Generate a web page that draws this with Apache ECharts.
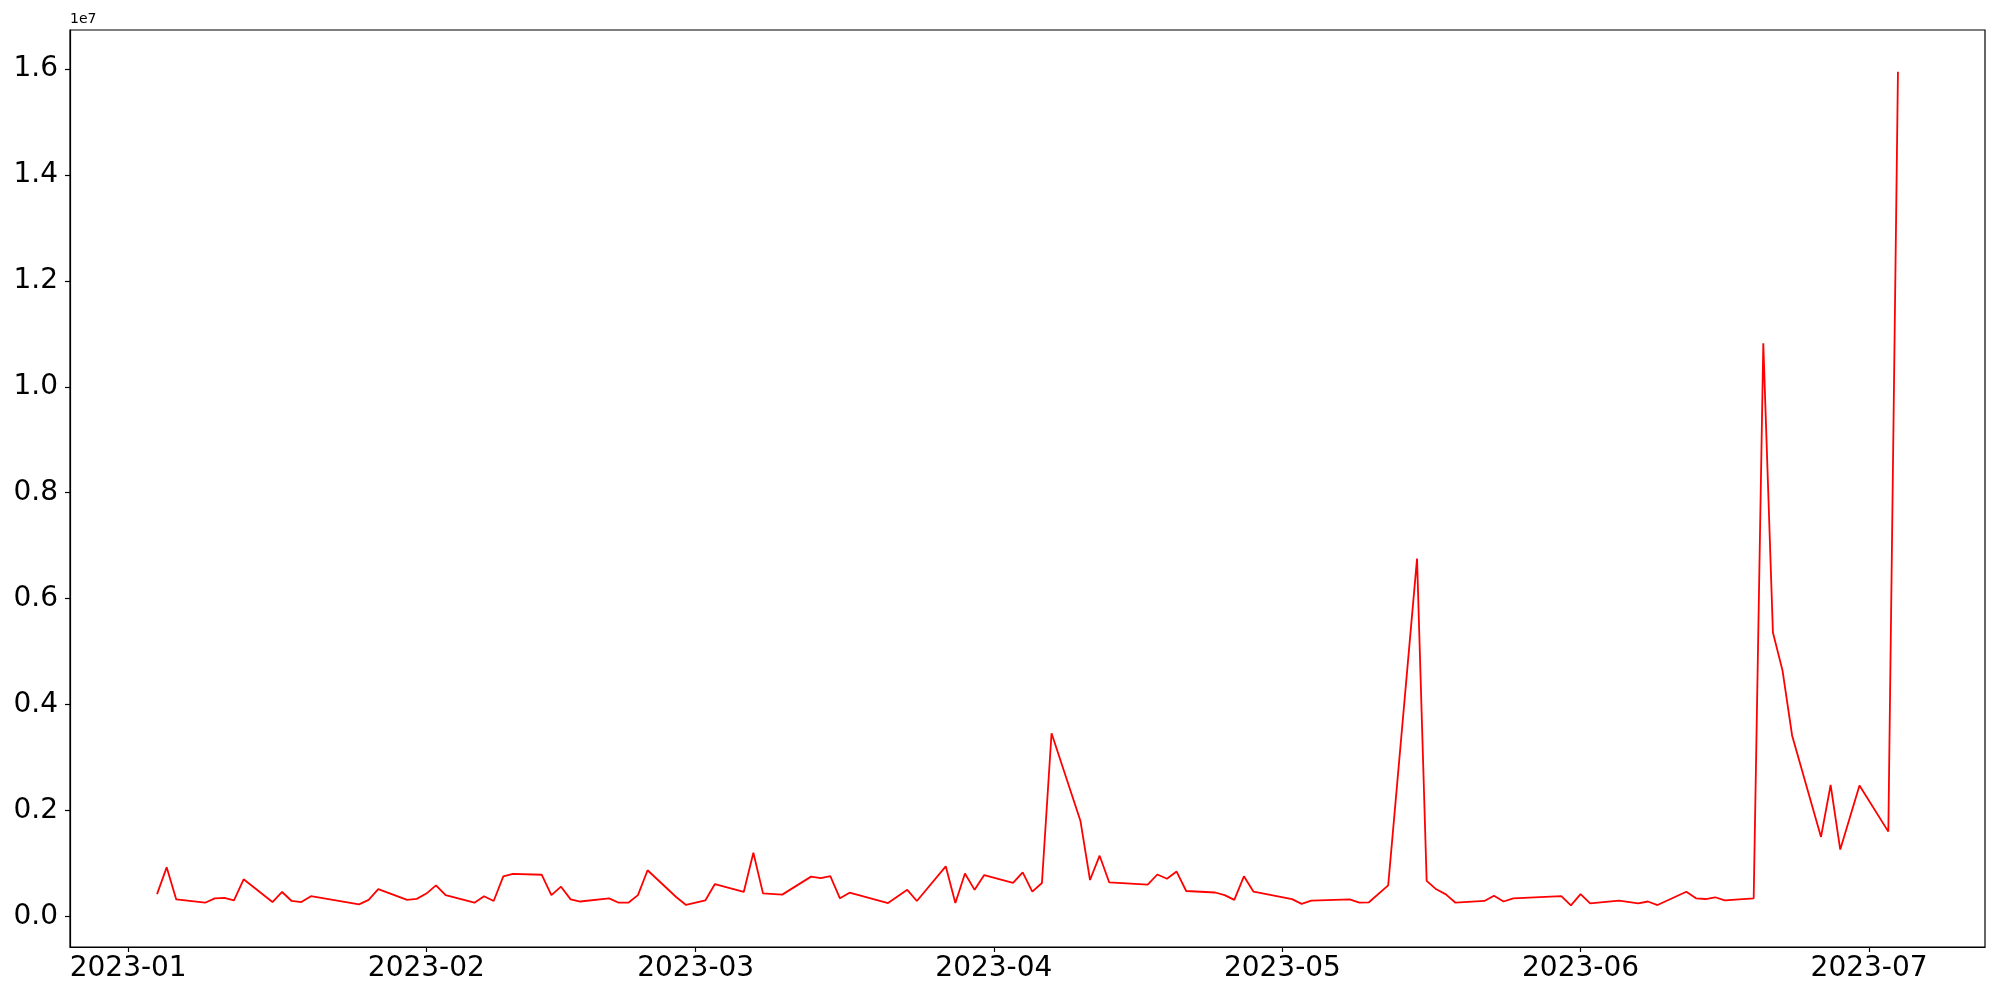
<!DOCTYPE html>
<html>
<head>
<meta charset="utf-8">
<script src="https://cdn.jsdelivr.net/npm/echarts@6/dist/echarts.min.js"></script>
<style>
html,body{margin:0;padding:0;background:#fff;}
#chart{width:2000px;height:1000px;}
</style>
</head>
<body>
<div id="chart"></div>
<script>
const dates = [
  '2023-01-04','2023-01-05','2023-01-06','2023-01-09','2023-01-10','2023-01-11','2023-01-12','2023-01-13',
  '2023-01-16','2023-01-17','2023-01-18','2023-01-19','2023-01-20','2023-01-25','2023-01-26','2023-01-27',
  '2023-01-30','2023-01-31','2023-02-01','2023-02-02','2023-02-03','2023-02-06','2023-02-07','2023-02-08',
  '2023-02-09','2023-02-10','2023-02-13','2023-02-14','2023-02-15','2023-02-16','2023-02-17','2023-02-20',
  '2023-02-21','2023-02-22','2023-02-23','2023-02-24','2023-02-27','2023-02-28','2023-03-02','2023-03-03',
  '2023-03-06','2023-03-07','2023-03-08','2023-03-10','2023-03-13','2023-03-14','2023-03-15','2023-03-16',
  '2023-03-17','2023-03-21','2023-03-23','2023-03-24','2023-03-27','2023-03-28','2023-03-29','2023-03-30',
  '2023-03-31','2023-04-03','2023-04-04','2023-04-05','2023-04-06','2023-04-07','2023-04-10','2023-04-11',
  '2023-04-12','2023-04-13','2023-04-17','2023-04-18','2023-04-19','2023-04-20','2023-04-21','2023-04-24',
  '2023-04-25','2023-04-26','2023-04-27','2023-04-28','2023-05-02','2023-05-03','2023-05-04','2023-05-08',
  '2023-05-09','2023-05-10','2023-05-12','2023-05-15','2023-05-16','2023-05-17','2023-05-18','2023-05-19',
  '2023-05-22','2023-05-23','2023-05-24','2023-05-25','2023-05-30','2023-05-31','2023-06-01','2023-06-02',
  '2023-06-05','2023-06-07','2023-06-08','2023-06-09','2023-06-12','2023-06-13','2023-06-14','2023-06-15',
  '2023-06-16','2023-06-19','2023-06-20','2023-06-21','2023-06-22','2023-06-23','2023-06-26','2023-06-27',
  '2023-06-28','2023-06-30','2023-07-03','2023-07-04'
];
const values = [
  420000, 925000, 320000, 257000, 340000, 350000, 300000, 700000,
  270000, 460000, 290000, 270000, 380000, 227000, 310000, 515000,
  310000, 330000, 430000, 585000, 400000, 257000, 380000, 290000,
  755000, 800000, 785000, 400000, 560000, 320000, 280000, 340000,
  257000, 257000, 400000, 870000, 360000, 215000, 300000, 610000,
  460000, 1200000, 434000, 410000, 750000, 720000, 760000, 340000,
  446000, 250000, 500000, 290000, 944000, 250000, 810000, 500000,
  780000, 630000, 830000, 465000, 630000, 3457000, 1806000, 686000,
  1145000, 640000, 600000, 790000, 710000, 845000, 478000, 450000,
  400000, 310000, 755000, 465000, 325000, 235000, 295000, 320000,
  260000, 265000, 585000, 6755000, 670000, 510000, 415000, 257000,
  290000, 390000, 280000, 340000, 383000, 208000, 420000, 245000,
  295000, 245000, 280000, 213000, 465000, 340000, 327000, 360000,
  300000, 340000, 10820000, 5360000, 4640000, 3410000, 1500000, 2480000,
  1260000, 2470000, 1600000, 15950000
];
const xTickLabels = ['2023-01','2023-02','2023-03','2023-04','2023-05','2023-06','2023-07'];
const yTickLabels = ['0.0','0.2','0.4','0.6','0.8','1.0','1.2','1.4','1.6'];
const yOffsetText = '1e7';
const yScale = 1e7;

function parseLocal(s) {
  const p = s.split('-').map(Number);
  return new Date(p[0], p[1] - 1, p[2] || 1).getTime();
}
const times = dates.map(parseLocal);
const xTickValues = xTickLabels.map(parseLocal);
const yTickValues = yTickLabels.map(s => parseFloat(s) * yScale);

const tMin = Math.min.apply(null, times), tMax = Math.max.apply(null, times);
const vMin = Math.min.apply(null, values), vMax = Math.max.apply(null, values);
const tPad = (tMax - tMin) * 0.05, vPad = (vMax - vMin) * 0.05;

const labelFont = { fontFamily: 'DejaVu Sans', fontSize: 28, color: '#000' };

const chart = echarts.init(document.getElementById('chart'), null, { renderer: 'canvas' });
chart.setOption({
  animation: false,
  backgroundColor: '#fff',
  grid: {
    left: 70, right: 15, top: 30, bottom: 53,
    containLabel: false,
    show: true, borderColor: '#000', borderWidth: 1.2, backgroundColor: 'transparent'
  },
  xAxis: {
    type: 'value',
    min: tMin - tPad,
    max: tMax + tPad,
    scale: true,
    splitLine: { show: false },
    axisLine: { show: true, onZero: false, lineStyle: { color: '#000', width: 1.2 } },
    axisTick: { show: true, customValues: xTickValues, length: 5, lineStyle: { color: '#000', width: 1.2 } },
    axisLabel: {
      customValues: xTickValues,
      margin: 8,
      ...labelFont,
      formatter: function (v) {
        let best = 0, bd = Infinity;
        xTickValues.forEach((t, i) => { const d = Math.abs(t - v); if (d < bd) { bd = d; best = i; } });
        return xTickLabels[best];
      }
    }
  },
  yAxis: {
    type: 'value',
    min: vMin - vPad,
    max: vMax + vPad,
    scale: true,
    name: yOffsetText,
    nameLocation: 'end',
    nameGap: 4,
    nameTextStyle: { fontFamily: 'DejaVu Sans', fontSize: 14, color: '#000', align: 'left', verticalAlign: 'bottom' },
    splitLine: { show: false },
    axisLine: { show: true, onZero: false, lineStyle: { color: '#000', width: 1.2 } },
    axisTick: { show: true, customValues: yTickValues, length: 5, lineStyle: { color: '#000', width: 1.2 } },
    axisLabel: {
      customValues: yTickValues,
      margin: 12,
      ...labelFont,
      formatter: function (v) {
        return (v / yScale).toFixed(1);
      }
    }
  },
  series: [{
    type: 'line',
    data: times.map((t, i) => [t, values[i]]),
    showSymbol: false,
    symbol: 'none',
    lineStyle: { color: '#ff0000', width: 1.8 },
    itemStyle: { color: '#ff0000' },
    z: 3
  }]
});
</script>
</body>
</html>
